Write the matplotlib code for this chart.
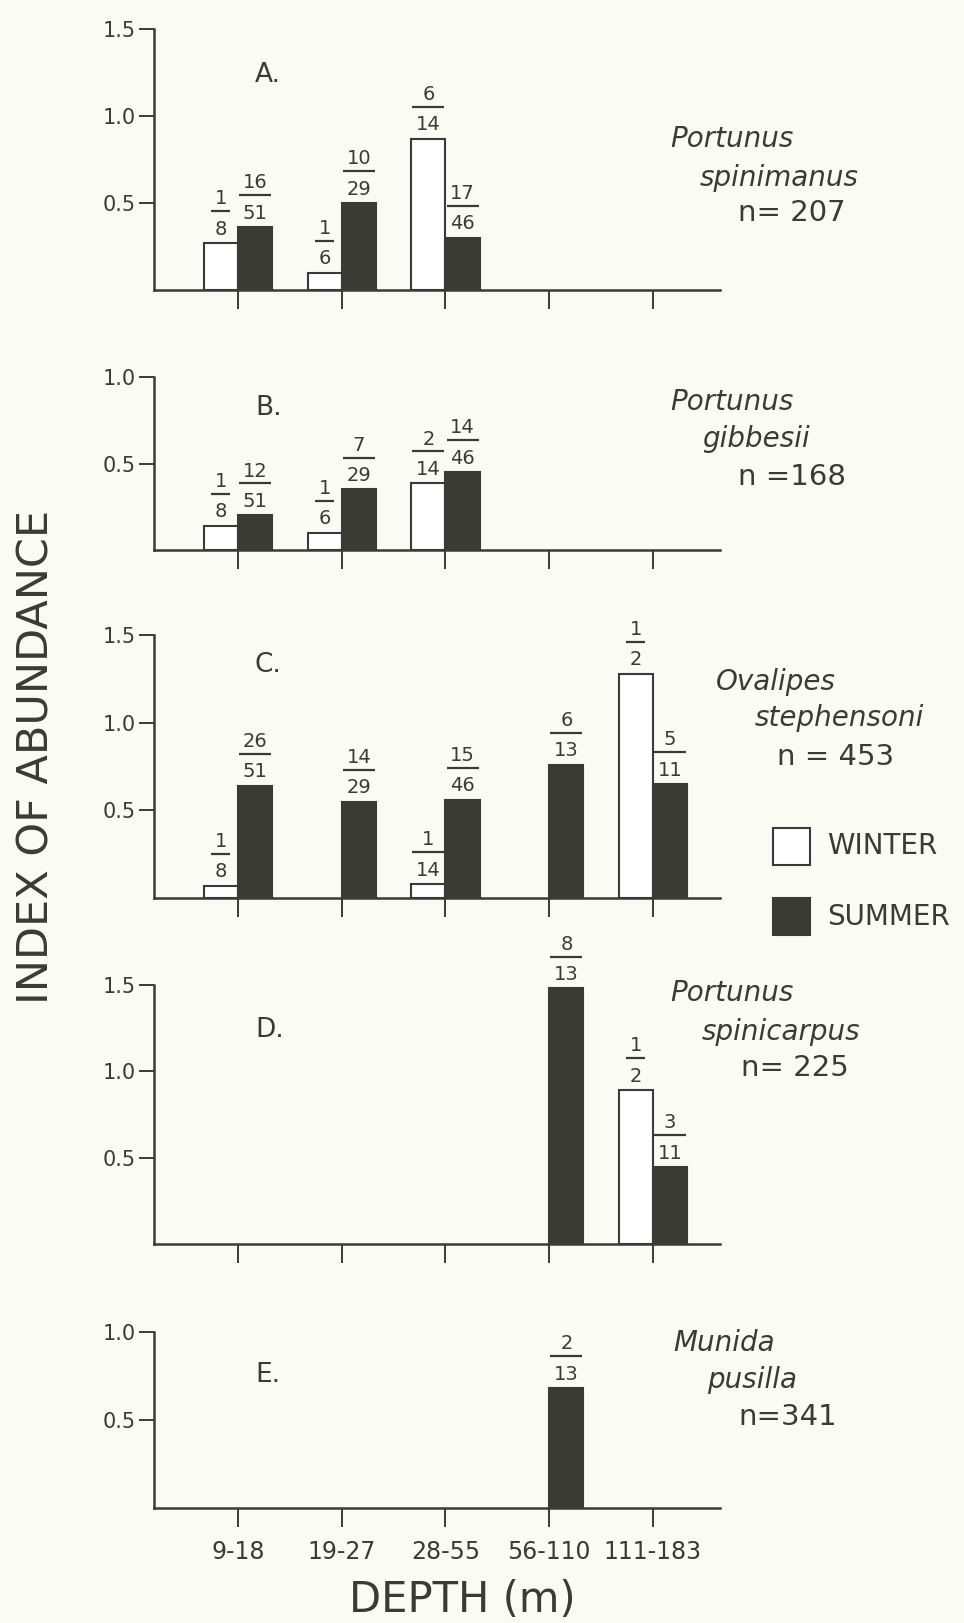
import numpy as np
import matplotlib
matplotlib.use("Agg")
import matplotlib.pyplot as plt
from matplotlib.patches import Rectangle
from matplotlib.transforms import offset_copy

# ------------------------------------------------------------
# Data
# ------------------------------------------------------------
depths = ["9-18", "19-27", "28-55", "56-110", "111-183"]
panels = ["A.", "B.", "C.", "D.", "E."]
species = [("Portunus", "spinimanus", "n= 207"),
           ("Portunus", "gibbesii", "n =168"),
           ("Ovalipes", "stephensoni", "n = 453"),
           ("Portunus", "spinicarpus", "n= 225"),
           ("Munida", "pusilla", "n=341")]
ymax = [1.5, 1.0, 1.5, 1.5, 1.0]

winter = [[0.27, 0.10, 0.87, None, None],
          [0.14, 0.10, 0.385, None, None],
          [0.07, None, 0.08, None, 1.28],
          [None, None, None, None, 0.89],
          [None, None, None, None, None]]
summer = [[0.36, 0.50, 0.30, None, None],
          [0.20, 0.35, 0.45, None, None],
          [0.64, 0.55, 0.56, 0.76, 0.65],
          [None, None, None, 1.48, 0.445],
          [None, None, None, 0.68, None]]
winter_frac = [["1/8", "1/6", "6/14", None, None],
               ["1/8", "1/6", "2/14", None, None],
               ["1/8", None, "1/14", None, "1/2"],
               [None, None, None, None, "1/2"],
               [None, None, None, None, None]]
summer_frac = [["16/51", "10/29", "17/46", None, None],
               ["12/51", "7/29", "14/46", None, None],
               ["26/51", "14/29", "15/46", "6/13", "5/11"],
               [None, None, None, "8/13", "3/11"],
               [None, None, None, "2/13", None]]

# ------------------------------------------------------------
# Style
# ------------------------------------------------------------
W, H = 964, 1623
BG = "#fbfbf6"
INK = "#3a3a37"
BAR = "#3b3b36"
plt.rcParams["font.family"] = ["DejaVu Sans"]
plt.rcParams["text.color"] = INK

# axes pixel boxes (top, bottom) in the 964x1623 picture
boxes = [(29, 290), (377, 550), (635, 898), (985, 1244), (1332, 1508)]
x_left, x_right = 154, 720
bw = 0.33

fig = plt.figure(figsize=(W / 100, H / 100), dpi=100, facecolor=BG)


def px(x, y):
    return x / W, 1 - y / H


def fraction(ax, x, top, frac):
    # numerator over a short rule over the denominator, stacked above a bar
    num, den = frac.split("/")
    n = max(len(num), len(den))
    ax.annotate(den, (x, top), xytext=(0, 6), textcoords="offset points",
                ha="center", va="baseline", fontsize=14, color=INK)
    ax.annotate(num, (x, top), xytext=(0, 28), textcoords="offset points",
                ha="center", va="baseline", fontsize=14, color=INK)
    hw = (6.5 * n + 3) / 103.75
    tr = offset_copy(ax.transData, fig=fig, x=0, y=23, units="points")
    ax.plot([x - hw, x + hw], [top, top], color=INK, lw=1.6,
            transform=tr, clip_on=False, solid_capstyle="butt")


xs = np.arange(1, len(depths) + 1)
for k in range(5):
    top, bot = boxes[k]
    l, b = px(x_left, bot)
    ax = fig.add_axes([l, b, (x_right - x_left) / W, (bot - top) / H])
    ax.set_facecolor("none")
    ax.set_xlim(1 + (x_left - 238) / 103.75, 1 + (x_right - 238) / 103.75)
    ax.set_ylim(0, ymax[k])
    for s in ("top", "right"):
        ax.spines[s].set_visible(False)
    for s in ("left", "bottom"):
        ax.spines[s].set_linewidth(1.8)
        ax.spines[s].set_color(INK)
    yt = np.arange(0.5, ymax[k] + 0.01, 0.5)
    ax.set_yticks(yt)
    ax.set_yticklabels([f"{v:.1f}" for v in yt])
    ax.tick_params(axis="y", length=11, width=1.4, pad=2, labelsize=15,
                   colors=INK)
    ax.set_xticks(xs)
    ax.tick_params(axis="x", length=14, width=1.4, pad=9, labelsize=17,
                   colors=INK)
    if k == 4:
        ax.set_xticklabels(depths)
    else:
        ax.set_xticklabels([])

    for i in range(len(depths)):
        wv, sv = winter[k][i], summer[k][i]
        if wv is not None:
            ax.bar(xs[i] - bw / 2, wv, width=bw, color="white",
                   edgecolor=INK, linewidth=1.5, zorder=2)
            fraction(ax, xs[i] - bw / 2, wv, winter_frac[k][i])
        if sv is not None:
            ax.bar(xs[i] + bw / 2, sv, width=bw, color=BAR,
                   edgecolor=BAR, linewidth=1.5, zorder=2)
            fraction(ax, xs[i] + bw / 2, sv, summer_frac[k][i])

# panel letters
letter_y = [75, 408, 665, 1030, 1375]
for k in range(5):
    fig.text(*px(255, letter_y[k]), panels[k], fontsize=19, ha="left",
             va="center", color=INK)

# species names
sp_pos = [[(670, 139), (700, 178), (738, 213)],
          [(670, 402), (702, 439), (738, 477)],
          [(716, 682), (755, 718), (777, 757)],
          [(670, 993), (702, 1032), (741, 1068)],
          [(673, 1343), (707, 1380), (738, 1417)]]
for k in range(5):
    g, sname, n = species[k]
    fig.text(*px(*sp_pos[k][0]), g, fontsize=20, style="italic",
             ha="left", va="center", color=INK)
    fig.text(*px(*sp_pos[k][1]), sname, fontsize=20, style="italic",
             ha="left", va="center", color=INK)
    fig.text(*px(*sp_pos[k][2]), n, fontsize=21, ha="left", va="center",
             color=INK)

# legend
for (y0, y1), fc, lab in [((828, 865), "white", "WINTER"),
                          ((898, 935), BAR, "SUMMER")]:
    x0, yb = px(773, y1)
    fig.patches.append(Rectangle((x0, yb), 37 / W, (y1 - y0) / H,
                                 transform=fig.transFigure, facecolor=fc,
                                 edgecolor=INK, linewidth=1.5))
    fig.text(*px(827, (y0 + y1) / 2), lab, fontsize=20, ha="left",
             va="center", color=INK)

# axis titles
fig.text(*px(37, 757), "INDEX OF ABUNDANCE", rotation=90, fontsize=31,
         ha="center", va="center", color=INK)
fig.text(*px(462, 1600), "DEPTH (m)", fontsize=30, ha="center",
         va="center", color=INK)

fig.savefig("out.png", dpi=100, facecolor=BG)
